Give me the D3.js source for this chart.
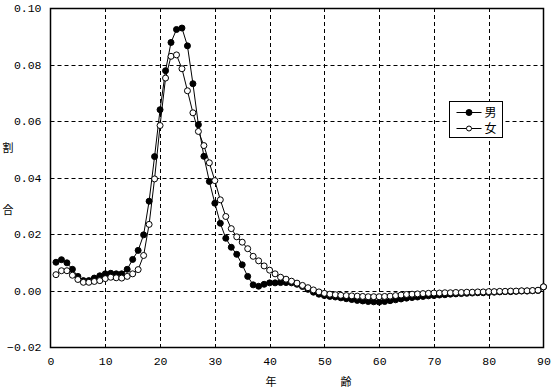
<!DOCTYPE html>
<html>
<head>
<meta charset="utf-8">
<script src="https://cdn.jsdelivr.net/npm/d3@7"></script>
<style>
  body { margin: 0; background: #fff; }
  svg { display: block; }
  .tick text { font-family: "Liberation Mono", "DejaVu Sans Mono", monospace; font-size: 11.5px; fill: #000; }
</style>
</head>
<body>
<div id="chart"></div>
<script>
// ages 1..90
const ages = d3.range(1, 91);

const male = [
  0.0100, 0.0109, 0.0098, 0.0075, 0.0050, 0.0035, 0.0035, 0.0044, 0.0052, 0.0059,
  0.0061, 0.0059, 0.0059, 0.0075, 0.0110, 0.0142, 0.0197, 0.0316, 0.0474, 0.0640,
  0.0778, 0.0878, 0.0924, 0.0929, 0.0866, 0.0732, 0.0587, 0.0475, 0.0386, 0.0309,
  0.0238, 0.0185, 0.0153, 0.0128, 0.0091, 0.0050, 0.0020, 0.0015, 0.0022, 0.0027,
  0.0027, 0.0028, 0.0028, 0.0027, 0.0022, 0.0014, 0.0004, -0.0006, -0.0013, -0.0018,
  -0.0021, -0.0023, -0.0026, -0.0029, -0.0032, -0.0035, -0.0037, -0.0039, -0.0040, -0.0041,
  -0.0039, -0.0036, -0.0033, -0.0030, -0.0027, -0.0025, -0.0023, -0.0021, -0.0019, -0.0018,
  -0.0016, -0.0015, -0.0013, -0.0012, -0.0011, -0.0010, -0.0009, -0.0008, -0.0008, -0.0007,
  -0.0006, -0.0005, -0.0004, -0.0004, -0.0003, -0.0002, -0.0002, -0.0001, 0.0000, 0.0013
];

const female = [
  0.0056, 0.0070, 0.0070, 0.0054, 0.0039, 0.0029, 0.0029, 0.0032, 0.0035, 0.0042,
  0.0047, 0.0045, 0.0044, 0.0050, 0.0059, 0.0074, 0.0124, 0.0234, 0.0395, 0.0584,
  0.0752, 0.0829, 0.0834, 0.0785, 0.0707, 0.0629, 0.0563, 0.0513, 0.0452, 0.0389,
  0.0321, 0.0262, 0.0219, 0.0190, 0.0171, 0.0148, 0.0121, 0.0105, 0.0087, 0.0072,
  0.0059, 0.0047, 0.0040, 0.0033, 0.0026, 0.0018, 0.0010, 0.0002, -0.0005, -0.0010,
  -0.0013, -0.0015, -0.0017, -0.0018, -0.0019, -0.0020, -0.0021, -0.0022, -0.0022, -0.0022,
  -0.0021, -0.0020, -0.0018, -0.0016, -0.0014, -0.0013, -0.0012, -0.0011, -0.0010, -0.0009,
  -0.0009, -0.0008, -0.0008, -0.0007, -0.0007, -0.0006, -0.0006, -0.0005, -0.0005, -0.0004,
  -0.0004, -0.0003, -0.0003, -0.0002, -0.0002, -0.0001, -0.0001, 0.0000, 0.0001, 0.0013
];

const xTicks = [0, 10, 20, 30, 40, 50, 60, 70, 80, 90];
const yTicks = [-0.02, 0.00, 0.02, 0.04, 0.06, 0.08, 0.10];
const seriesNames = ["男", "女"];

const W = 553, H = 389;
const plot = { left: 50.5, right: 543.5, top: 8, bottom: 347 };

const svg = d3.select("#chart").append("svg")
  .attr("width", W).attr("height", H);

const x = d3.scaleLinear().domain([0, 90]).range([plot.left, plot.right]);
const y = d3.scaleLinear().domain([-0.02, 0.10]).range([plot.bottom, plot.top]);

// grid lines
const grid = svg.append("g").attr("stroke", "#000").attr("stroke-dasharray", "4,3").attr("stroke-width", 1);
xTicks.slice(1, -1).forEach(t => {
  grid.append("line").attr("x1", Math.round(x(t)) + 0.5).attr("x2", Math.round(x(t)) + 0.5)
    .attr("y1", plot.top).attr("y2", plot.bottom);
});
yTicks.slice(1, -1).forEach(t => {
  grid.append("line").attr("y1", Math.round(y(t)) + 0.5).attr("y2", Math.round(y(t)) + 0.5)
    .attr("x1", plot.left).attr("x2", plot.right);
});

// axes
svg.append("g")
  .attr("transform", `translate(0,${plot.bottom})`)
  .call(d3.axisBottom(x).tickValues(xTicks).tickSize(0).tickPadding(10).tickFormat(d3.format("d")))
  .call(g => g.select(".domain").remove());

svg.append("g")
  .attr("transform", `translate(${plot.left},0)`)
  .call(d3.axisLeft(y).tickValues(yTicks).tickSize(0).tickPadding(9).tickFormat(d3.format(".2f")))
  .call(g => g.select(".domain").remove());

// frame
svg.append("rect")
  .attr("x", plot.left).attr("y", plot.top + 0.5)
  .attr("width", plot.right - plot.left).attr("height", plot.bottom - plot.top)
  .attr("fill", "none").attr("stroke", "#000").attr("stroke-width", 1.5);

// axis titles
const cjk = '"Noto Sans CJK JP", "Noto Sans CJK SC", sans-serif';
svg.append("text").attr("x", 8).attr("y", 152).attr("text-anchor", "middle")
  .style("font-family", cjk).style("font-size", "11px").text("割");
svg.append("text").attr("x", 8).attr("y", 214).attr("text-anchor", "middle")
  .style("font-family", cjk).style("font-size", "11px").text("合");
svg.append("text").attr("x", 271).attr("y", 386).attr("text-anchor", "middle")
  .style("font-family", cjk).style("font-size", "11px").text("年");
svg.append("text").attr("x", 346).attr("y", 386).attr("text-anchor", "middle")
  .style("font-family", cjk).style("font-size", "11px").text("齢");

// series
const line = d3.line().x((d, i) => x(ages[i])).y(d => y(d));

function drawSeries(values, filled) {
  const g = svg.append("g");
  g.append("path").datum(values)
    .attr("d", line).attr("fill", "none").attr("stroke", "#000").attr("stroke-width", 1);
  g.selectAll("circle").data(values).enter().append("circle")
    .attr("cx", (d, i) => x(ages[i]))
    .attr("cy", d => y(d))
    .attr("r", 3)
    .attr("fill", filled ? "#000" : "#fff")
    .attr("stroke", "#000").attr("stroke-width", 1);
}

drawSeries(male, true);
drawSeries(female, false);

// legend
const legend = svg.append("g").attr("transform", "translate(449.5,101.5)");
legend.append("rect").attr("width", 53).attr("height", 36)
  .attr("fill", "#fff").attr("stroke", "#000").attr("stroke-width", 1);
seriesNames.forEach((name, i) => {
  const ly = 11 + i * 16;
  legend.append("line").attr("x1", 7).attr("x2", 32).attr("y1", ly).attr("y2", ly)
    .attr("stroke", "#000");
  legend.append("circle").attr("cx", 19.5).attr("cy", ly).attr("r", i === 0 ? 3 : 2.5)
    .attr("fill", i === 0 ? "#000" : "#fff").attr("stroke", "#000");
  legend.append("text").attr("x", 35).attr("y", ly + 4.5)
    .style("font-family", cjk).style("font-size", "12px").text(name);
});
</script>
</body>
</html>
